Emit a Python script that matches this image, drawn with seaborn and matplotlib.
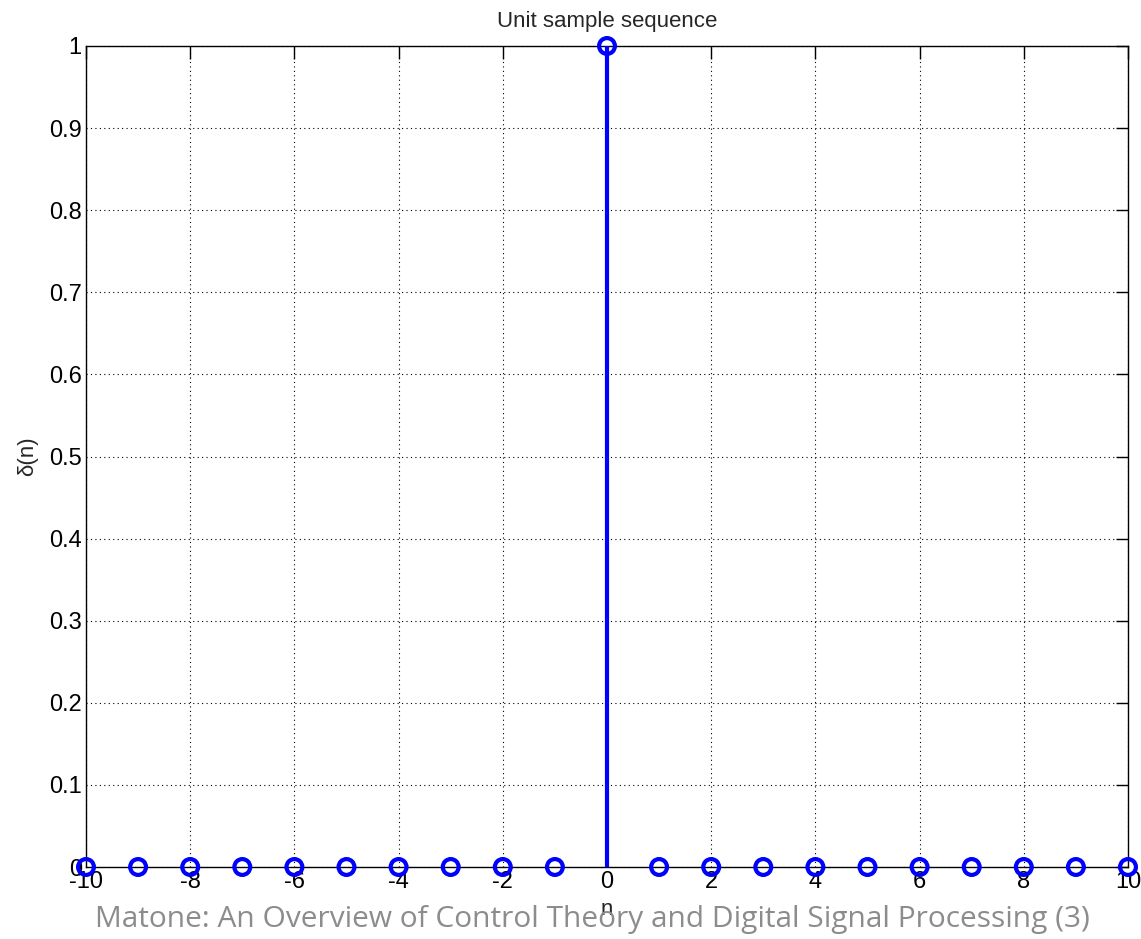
import numpy as np
import pandas as pd
import matplotlib
matplotlib.use("Agg")
import matplotlib.pyplot as plt
import seaborn as sns

# data
n = list(range(-10, 11))
delta = [1 if k == 0 else 0 for k in n]
xticks = list(range(-10, 11, 2))
yticks = [0, 0.1, 0.2, 0.3, 0.4, 0.5, 0.6, 0.7, 0.8, 0.9, 1]
ytick_labels = ["0", "0.1", "0.2", "0.3", "0.4", "0.5", "0.6", "0.7", "0.8", "0.9", "1"]

df = pd.DataFrame({"n": n, "delta": delta})

sns.set_style("white")
plt.rcParams["font.family"] = ["Liberation Sans", "DejaVu Sans"]

fig = plt.figure(figsize=(11.41, 9.39), dpi=100)
ax = fig.add_axes([86 / 1141, 1 - 867 / 939, (1128 - 86) / 1141, (867 - 46) / 939])

# stems
ax.vlines(df["n"], 0, df["delta"], color="#0000ff", linewidth=3, zorder=3)
sns.scatterplot(data=df, x="n", y="delta", ax=ax, marker="o", s=130,
                facecolor="none", edgecolor="#0000ff", linewidth=3,
                zorder=4, clip_on=False, legend=False)

ax.set_xlim(-10, 10)
ax.set_ylim(0, 1)
ax.set_xticks(xticks)
ax.set_xticklabels([str(t) for t in xticks])
ax.set_yticks(yticks)
ax.set_yticklabels(ytick_labels)
ax.grid(True, linestyle=(0, (1, 3)), color="black", linewidth=0.8)
ax.tick_params(direction="in", length=9, width=1, labelsize=17, colors="black",
               top=True, right=True, pad=3)
for s in ax.spines.values():
    s.set_color("black")
    s.set_linewidth(1)
    s.set_visible(True)

ax.set_title("Unit sample sequence", fontsize=16, pad=14)
ax.set_ylabel("δ(n)", fontsize=16, labelpad=8)
ax.set_xlabel("n", fontsize=16, labelpad=4)

fig.text(0.519, 0.021, "Matone: An Overview of Control Theory and Digital Signal Processing (3)",
         ha="center", va="center", fontsize=21.5, color="#8c8c8c", family=["Open Sans", "DejaVu Sans"])

fig.savefig("out.png", dpi=100)
